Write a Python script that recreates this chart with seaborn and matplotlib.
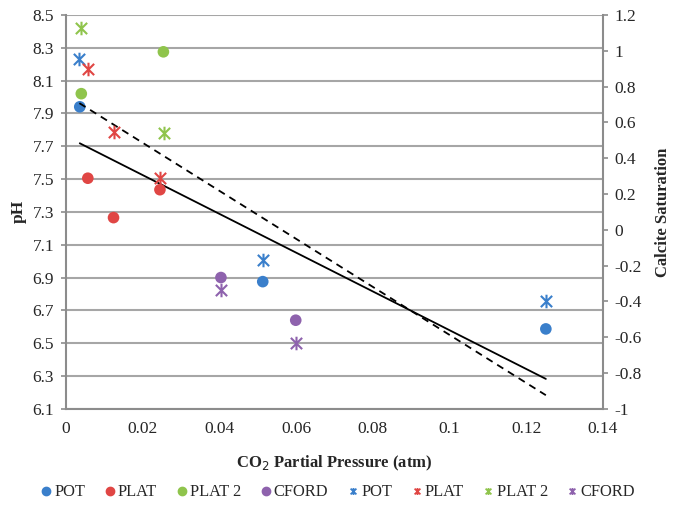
# CO2 partial pressure vs pH / calcite saturation

import numpy as np
import pandas as pd
import matplotlib.pyplot as plt
import seaborn as sns
from matplotlib.path import Path
from matplotlib.lines import Line2D
from matplotlib.ticker import FuncFormatter

# %%
# data
sites = ["POT", "PLAT", "PLAT 2", "CFORD"]
colors = ["#3a7fcb", "#e04644", "#8fc44c", "#8e62ad"]

ph_site = ["POT", "PLAT 2", "PLAT", "PLAT", "PLAT", "PLAT 2", "CFORD", "POT", "CFORD", "POT"]
ph_pco2 = [0.0036, 0.0040, 0.0057, 0.0124, 0.0245, 0.0254, 0.0404, 0.0513, 0.0599, 0.1251]
ph_val = [7.94, 8.02, 7.505, 7.265, 7.435, 8.275, 6.90, 6.875, 6.64, 6.587]

sat_site = ["PLAT 2", "POT", "PLAT", "PLAT", "PLAT 2", "PLAT", "POT", "CFORD", "CFORD", "POT"]
sat_pco2 = [0.0040, 0.0035, 0.0057, 0.0124, 0.0255, 0.0244, 0.0514, 0.0404, 0.0599, 0.1251]
sat_val = [1.126, 0.953, 0.897, 0.545, 0.541, 0.288, -0.166, -0.339, -0.633, -0.397]

ph_df = pd.DataFrame({"site": ph_site, "pco2": ph_pco2, "ph": ph_val})
sat_df = pd.DataFrame({"site": sat_site, "pco2": sat_pco2, "sat": sat_val})

# %%
sns.set_style("white")
plt.rcParams["font.family"] = ["Liberation Serif", "DejaVu Serif"]
plt.rcParams["font.size"] = 12.5

# excel style star marker: x plus vertical bar
star = Path([(-1, -1), (1, 1), (-1, 1), (1, -1), (0, -1.2), (0, 1.2)],
            [Path.MOVETO, Path.LINETO, Path.MOVETO, Path.LINETO, Path.MOVETO, Path.LINETO])

pal = dict(zip(sites, colors))
grey = "#8c8c8c"

fig, ax = plt.subplots(figsize=(6.73, 5.13), dpi=100)
fig.subplots_adjust(left=0.098, right=0.896, top=0.971, bottom=0.203)
ax2 = ax.twinx()

sns.scatterplot(data=ph_df, x="pco2", y="ph", hue="site", palette=pal, hue_order=sites,
                marker="o", s=70, linewidth=0, legend=False, ax=ax, zorder=3)
for site, c in zip(sites, colors):
    sub = sat_df[sat_df.site == site]
    sns.scatterplot(data=sub, x="pco2", y="sat", color=c, edgecolor=c,
                    marker=star, s=95, linewidth=1.5, legend=False, ax=ax2, zorder=3)

# linear trendlines
sns.regplot(data=ph_df, x="pco2", y="ph", scatter=False, ci=None, truncate=True,
            line_kws=dict(color="black", lw=1.3), ax=ax)
sns.regplot(data=sat_df, x="pco2", y="sat", scatter=False, ci=None, truncate=True,
            line_kws=dict(color="black", lw=1.3, ls=(0, (4, 3))), ax=ax2)

fmt = FuncFormatter(lambda v, p: ("%g" % (round(v, 3) + 0.0)).replace("\u2212", "-"))

ax.set_xlim(0, 0.14)
ax.set_xticks(np.round(np.arange(0, 0.141, 0.02), 2))
ax.set_ylim(6.1, 8.5)
ax.set_yticks(np.round(np.arange(6.1, 8.51, 0.2), 1))
ax2.set_ylim(-1, 1.2)
ax2.set_yticks(np.round(np.arange(-1, 1.21, 0.2), 1))
for a in (ax.xaxis, ax.yaxis, ax2.yaxis):
    a.set_major_formatter(fmt)

ax.grid(axis="y", color="#a6a6a6", lw=1.5)
ax.set_axisbelow(True)
for a in (ax, ax2):
    a.spines["top"].set_visible(False)
    for side in ["left", "bottom", "right"]:
        a.spines[side].set_color(grey)
        a.spines[side].set_linewidth(1.5)
ax2.spines["left"].set_visible(False)
ax2.spines["bottom"].set_visible(False)
ax.spines["right"].set_visible(False)

ax.tick_params(axis="both", direction="out", length=3.5, width=1.2, color=grey, pad=5, labelsize=12.5)
ax2.tick_params(axis="y", direction="out", length=3.5, width=1.2, color=grey, pad=5, labelsize=12.5)

ax.set_xlabel("CO$_2$ Partial Pressure (atm)", fontweight="bold", labelpad=12, fontsize=12)
ax.set_ylabel("pH", fontweight="bold", labelpad=4, fontsize=12.5)
ax2.set_ylabel("Calcite Saturation", fontweight="bold", labelpad=9, fontsize=12)

# legend
handles = [Line2D([], [], ls="", marker="o", color=c, markersize=6) for c in colors]
handles += [Line2D([], [], ls="", marker=star, color=c, markersize=5, mew=1.3) for c in colors]
labels = sites + sites
fig.legend(handles, labels, loc="center", bbox_to_anchor=(0.5, 0.04), ncol=8, frameon=False,
           handletextpad=0.0, columnspacing=1.0, handlelength=1.0, fontsize=11.8)

plt.savefig("out.png", dpi=100)
